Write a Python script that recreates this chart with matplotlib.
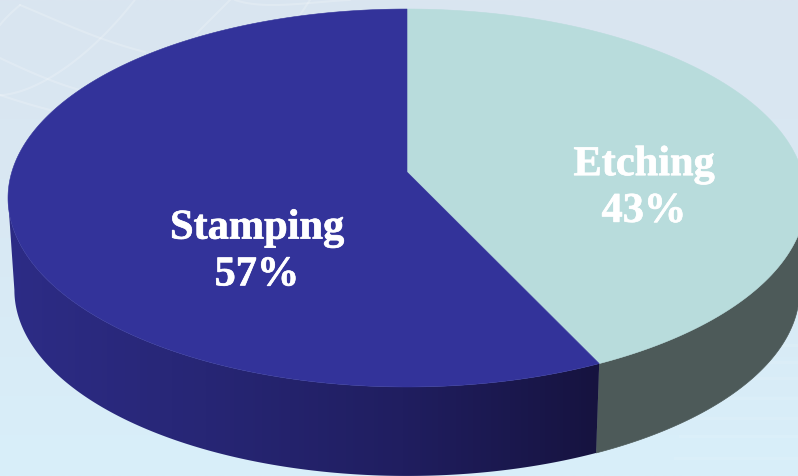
import numpy as np
import matplotlib
matplotlib.use("Agg")
import matplotlib.pyplot as plt
import matplotlib.patheffects as pe
from matplotlib.colors import LinearSegmentedColormap
from matplotlib.patches import Polygon

# Data
labels = ["Etching", "Stamping"]
shares = [43, 57]
label_centres = [(644, 188.5), (257, 252)]

# Colours
top_colors = ["#b8dcdc", "#33339a"]
etching_wall = "#4d5a59"
stamping_wall = ["#2d2c86", "#272675", "#201e60", "#16133f"]
background = ["#dae5f0", "#d9e9f4", "#d8effa"]

# Perspective disc geometry, in pixels
CX = 407
APEX_Y = 172
RADIUS_X = 395.2
RADIUS_Y = 185.4
TILT = 0.1376
WALL_SCALE = 0.984
WALL_APEX_Y = 264.4


def rim(theta, scale=1.0, apex_y=APEX_Y):
    """Project clockwise-from-top angles on the unit circle to the picture."""
    u, v = np.sin(theta), np.cos(theta)
    w = 1 + TILT * v
    return np.column_stack((CX + scale * RADIUS_X * u / w,
                            apex_y - scale * RADIUS_Y * v / w))


def wall_polygon(start, end):
    theta = np.linspace(start, end, 300)
    return np.vstack((rim(theta), rim(theta[::-1], WALL_SCALE, WALL_APEX_Y)))


fig = plt.figure(figsize=(7.98, 4.76), dpi=100)
ax = fig.add_axes([0, 0, 1, 1])
ax.set_xlim(0, 798)
ax.set_ylim(476, 0)
ax.axis("off")

# Backdrop
bg_map = LinearSegmentedColormap.from_list("backdrop", background)
ax.imshow(np.linspace(0, 1, 256)[:, None], cmap=bg_map, aspect="auto",
          extent=(0, 798, 476, 0), zorder=0)

# Faint white strokes of the backdrop texture
strokes = [
    [(20, 5), (60, 22), (100, 38), (145, 52)],
    [(135, 0), (100, 38), (70, 65), (30, 88), (0, 95)],
    [(0, 58), (45, 78), (80, 90)],
    [(0, 95), (25, 103), (50, 110)],
    [(20, 5), (8, 16), (0, 25)],
    [(230, 0), (212, 18), (195, 35)],
    [(235, 0), (270, 5), (310, 3), (350, 0)],
    [(300, 15), (310, 0)],
]
for stroke in strokes:
    xs, ys = zip(*stroke)
    t = np.linspace(0, 1, len(xs))
    tt = np.linspace(0, 1, 60)
    coeff_x = np.polyfit(t, xs, min(3, len(xs) - 1))
    coeff_y = np.polyfit(t, ys, min(3, len(xs) - 1))
    ax.plot(np.polyval(coeff_x, tt), np.polyval(coeff_y, tt),
            color="white", lw=1.5, alpha=0.2, zorder=1, solid_capstyle="round")

# Pale horizontal banding low on the right
for y, x0 in zip([345, 362, 378, 398, 418, 436, 458], [735, 700, 690, 670, 665, 680, 675]):
    ax.plot([x0, 798], [y, y], color="white", lw=2.5, alpha=0.1, zorder=1)

# Slice boundaries, clockwise from twelve o'clock
fractions = np.cumsum([0] + shares) / sum(shares)
angles = 2 * np.pi * fractions

# The rim's horizontal extremes, where the side wall's silhouette leaves the top face
right_tangent = np.arccos(-TILT)
left_tangent = 2 * np.pi - np.arccos(-TILT)

# Side walls
etching_side = Polygon(wall_polygon(right_tangent, angles[1]), closed=True,
                       fc=etching_wall, ec=etching_wall, lw=0.5, zorder=2)
ax.add_patch(etching_side)

stamping_patch = Polygon(wall_polygon(angles[1], left_tangent), closed=True,
                         fc="none", ec="none")
ax.add_patch(stamping_patch)
wall_map = LinearSegmentedColormap.from_list("wall", stamping_wall)
gradient = ax.imshow(np.linspace(0, 1, 512)[None, :], cmap=wall_map, aspect="auto",
                     extent=(8, 600, 476, 0), zorder=3)
gradient.set_clip_path(stamping_patch)

# Top faces
for i, color in enumerate(top_colors):
    theta = np.linspace(angles[i], angles[i + 1], 400)
    pts = np.vstack(([CX, APEX_Y], rim(theta)))
    ax.add_patch(Polygon(pts, closed=True, fc=color, ec=color, lw=0.4, zorder=4))

# Labels
for (x, y), name, share in zip(label_centres, labels, shares):
    ax.text(x, y, f"{name}\n{share}%", color="white", fontsize=30.5, fontweight="bold",
            family="Liberation Serif", ha="center", va="center",
            linespacing=1.3, zorder=5,
            path_effects=[pe.withStroke(linewidth=0.5, foreground="white")])

ax.set_xlim(0, 798)
ax.set_ylim(476, 0)
fig.savefig("out.png", dpi=100)
